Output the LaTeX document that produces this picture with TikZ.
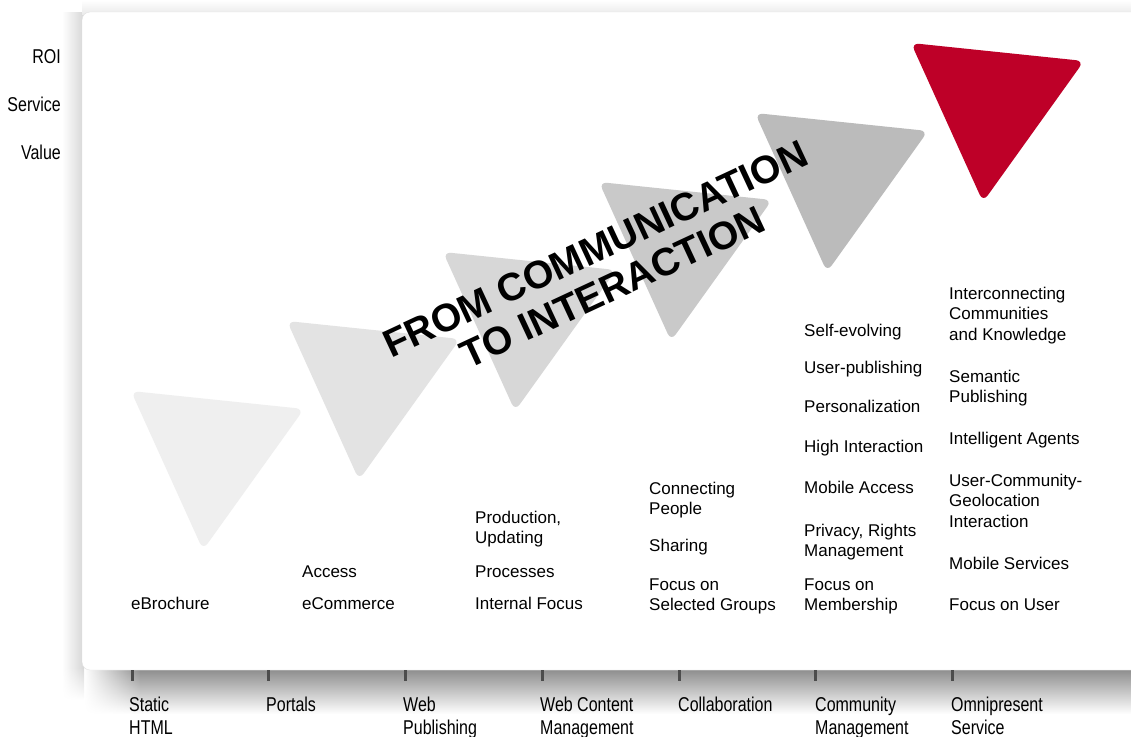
\documentclass[tikz,border=0pt]{standalone}
\usepackage{fontspec}
\setmainfont{Liberation Sans}
\newfontfamily\axisfont[FakeStretch=0.8]{Liberation Sans}
\usetikzlibrary{fadings,positioning}
\definecolor{tri1}{RGB}{239,239,239}
\definecolor{tri2}{RGB}{227,227,227}
\definecolor{tri3}{RGB}{215,215,215}
\definecolor{tri4}{RGB}{201,201,201}
\definecolor{tri5}{RGB}{187,187,187}
\definecolor{roired}{RGB}{190,0,40}

\begin{document}
\begin{tikzpicture}[x=1pt,y=-1pt]
\tikzstyle{item}=[anchor=base west,align=left,inner sep=0pt,
font=\fontsize{17}{20.5}\selectfont]
\tikzstyle{stage}=[anchor=base west,align=left,inner sep=0pt,
font=\axisfont\fontsize{20}{23}\selectfont]
\tikzstyle{gauge}=[anchor=base east,inner sep=0pt,
font=\axisfont\fontsize{20}{23}\selectfont]
\tikzstyle{tick}=[line width=3pt,black!70]
\tikzstyle{tri}=[rounded corners=8pt]
\useasboundingbox (0,0) rectangle (1131,736);

\shade[left color=white,right color=black!16] (62,12) rectangle (84,668);
\shade[left color=white,right color=black!16,path fading=south] (62,667.5) rectangle (84,700);
\shade[top color=white,bottom color=black!8] (82,0) rectangle (1131,14);
\shade[top color=black!45,bottom color=white] (140,669) rectangle (1131,714);
\shade[top color=black!45,bottom color=white,path fading=west] (84,669) rectangle (140.5,714);
\fill[white,rounded corners=8pt,draw=black!12] (82,12) rectangle (1160,670);

\node[gauge] at (61,63) (roi) {ROI};
\node[gauge] at (61,111) (service) {Service};
\node[gauge] at (61,159) (value) {Value};

\fill[tri,tri1] (131,391) -- ++(173,18) -- ++(-101,141) -- cycle;
\fill[tri,tri2] (287,321) -- ++(173,18) -- ++(-101,141) -- cycle;
\fill[tri,tri3] (443,252) -- ++(173,18) -- ++(-101,141) -- cycle;
\fill[tri,tri4] (599,182) -- ++(173,18) -- ++(-101,141) -- cycle;
\fill[tri,tri5] (755,113) -- ++(173,18) -- ++(-101,141) -- cycle;
\fill[tri,roired] (911,43) -- ++(173,18) -- ++(-101,141) -- cycle;

\node[rotate=25,align=center,font=\bfseries\fontsize{39}{42}\selectfont] at (604,268) (motto)
{FROM COMMUNICATION\\TO INTERACTION};

\node[item] at (131,609) (e1) {eBrochure};

\node[item] at (302,577) (p1) {Access};
\node[item] at (302,609) (p2) {eCommerce};

\node[item] at (475,543.5) (w1) {Production,\\Updating};
\node[item] at (475,577) (w2) {Processes};
\node[item] at (475,609) (w3) {Internal Focus};

\node[item] at (649,514.5) (c1) {Connecting\\People};
\node[item] at (649,551) (c2) {Sharing};
\node[item] at (649,610.5) (c3) {Focus on\\Selected Groups};

\node[item] at (804,336) (m1) {Self-evolving};
\node[item] at (804,373) (m2) {User-publishing};
\node[item] at (804,412) (m3) {Personalization};
\node[item] at (804,452) (m4) {High Interaction};
\node[item] at (804,493) (m5) {Mobile Access};
\node[item] at (804,556.5) (m6) {Privacy, Rights\\Management};
\node[item] at (804,610.5) (m7) {Focus on\\Membership};

\node[item] at (949,340) (o1) {Interconnecting\\Communities\\and Knowledge};
\node[item] at (949,402.5) (o2) {Semantic\\Publishing};
\node[item] at (949,444) (o3) {Intelligent Agents};
\node[item] at (949,527) (o4) {User-Community-\\Geolocation\\Interaction};
\node[item] at (949,569) (o5) {Mobile Services};
\node[item] at (949,610) (o6) {Focus on User};

\draw[tick] (132,670) -- (132,681);
\draw[tick] (268,670) -- (268,681);
\draw[tick] (405,670) -- (405,681);
\draw[tick] (542,670) -- (542,681);
\draw[tick] (679,670) -- (679,681);
\draw[tick] (815,670) -- (815,681);
\draw[tick] (952,670) -- (952,681);

\node[stage] at (129,734) (s1) {Static\\HTML};
\node[stage] at (266,711) (s2) {Portals};
\node[stage] at (403,734) (s3) {Web\\Publishing};
\node[stage] at (540,734) (s4) {Web Content\\Management};
\node[stage] at (678,711) (s5) {Collaboration};
\node[stage] at (815,734) (s6) {Community\\Management};
\node[stage] at (951,734) (s7) {Omnipresent\\Service};
\end{tikzpicture}
\end{document}
